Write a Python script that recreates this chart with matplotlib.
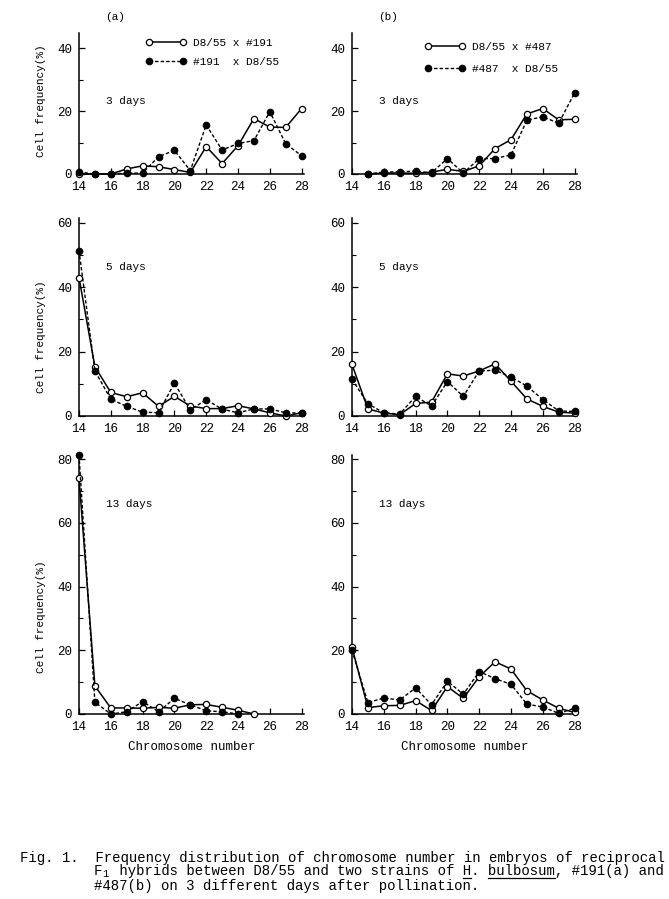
import numpy as np
import matplotlib
matplotlib.use("Agg")
import matplotlib.pyplot as plt
from matplotlib.lines import Line2D

plt.rcParams["font.family"] = ["Liberation Mono", "DejaVu Sans Mono"]

# DATA
chrom_a3 = list(range(14, 29))
open_a3 = [0.0, 0.0, 0.0, 1.6, 2.6, 2.3, 1.4, 0.5, 8.7, 3.3, 9.0, 17.6, 14.9, 14.8, 20.8]
fill_a3 = [0.6, 0.0, 0.0, 0.3, 0.3, 5.5, 7.5, 1.1, 15.6, 7.6, 9.7, 10.6, 19.8, 9.6, 5.8]

chrom_b3 = list(range(15, 29))
open_b3 = [0.0, 0.3, 0.3, 0.2, 0.6, 1.5, 0.8, 2.6, 8.1, 10.9, 19.1, 20.8, 17.2, 17.4]
fill_b3 = [0.0, 0.6, 0.7, 0.9, 0.4, 4.9, 0.3, 4.9, 4.9, 6.1, 17.1, 18.2, 16.1, 25.8]

chrom_a5 = list(range(14, 29))
open_a5 = [43.0, 15.3, 7.3, 6.0, 7.2, 3.0, 6.1, 3.1, 2.3, 2.3, 3.2, 2.2, 1.0, 0.0, 1.0]
fill_a5 = [51.4, 14.0, 5.2, 3.0, 1.2, 1.0, 10.2, 1.9, 5.1, 2.1, 1.0, 2.2, 2.2, 1.0, 0.9]

chrom_b5 = list(range(14, 29))
open_b5 = [16.0, 2.2, 0.9, 0.4, 3.9, 4.3, 13.1, 12.4, 14.0, 16.2, 10.8, 5.3, 3.0, 1.2, 0.9]
fill_b5 = [11.4, 3.8, 1.0, 0.6, 6.1, 3.1, 10.7, 6.1, 14.0, 14.2, 12.1, 9.3, 5.1, 1.6, 1.4]

chrom_a13_open = list(range(14, 26))
open_a13 = [74.1, 8.8, 1.9, 1.9, 1.8, 2.1, 1.8, 2.9, 3.0, 2.1, 1.2, 0.0]
chrom_a13_fill = list(range(14, 25))
fill_a13 = [81.3, 3.7, 0.0, 0.7, 3.9, 0.7, 4.9, 2.9, 1.0, 0.7, 0.0]

chrom_b13 = list(range(14, 29))
open_b13 = [20.9, 2.0, 2.6, 2.7, 4.2, 1.1, 8.6, 4.9, 11.7, 16.4, 14.1, 7.3, 4.4, 1.8, 0.5]
fill_b13 = [20.0, 3.6, 5.0, 4.4, 8.2, 2.9, 10.3, 6.2, 13.3, 11.1, 9.3, 3.1, 2.2, 0.2, 1.8]

day_labels = ["3 days", "5 days", "13 days"]
legend_a = ["D8/55 x #191", "#191  x D8/55"]
legend_b = ["D8/55 x #487", "#487  x D8/55"]

caption_1 = "Fig. 1.  Frequency distribution of chromosome number in embryos of reciprocal"
caption_2 = " hybrids between D8/55 and two strains of H. bulbosum, #191(a) and"
caption_3 = "#487(b) on 3 different days after pollination."
underlined = ["H", "bulbosum"]

# FIGURE
fig = plt.figure(figsize=(6.69, 8.99), dpi=100)

W = 669.0
H = 899.0
# rows: (top px, bottom px, ymax, ytick top)
rows = [(33, 174, 44.8, 40), (218, 416, 61.5, 60), (455, 714, 81.3, 80)]
cols = [79, 352]
axw = 225
MS = 4.5


def style_axis(ax, ymax, ytop):
    for s in ["top", "right"]:
        ax.spines[s].set_visible(False)
    for s in ["left", "bottom"]:
        ax.spines[s].set_linewidth(1.1)
    ax.set_xlim(14, 28.15)
    ax.set_ylim(0, ymax)
    ax.set_xticks(range(14, 29, 2))
    ax.set_yticks(range(0, ytop + 1, 20))
    ax.set_yticks(range(10, ytop, 20), minor=True)
    ax.tick_params(direction="in", length=4, width=0.9, labelsize=9, pad=5)
    ax.tick_params(which="minor", direction="in", length=3, width=0.8)


def draw(ax, xo, yo, xf, yf):
    ax.plot(xo, yo, "-", color="black", lw=1.1, marker="o", ms=MS,
            mfc="white", mec="black", mew=0.9, clip_on=False, zorder=3)
    ax.plot(xf, yf, color="black", lw=1.0, ls=(0, (2.5, 1.5)), marker="o",
            ms=MS, mfc="black", mec="black", clip_on=False, zorder=4)


panels = [
    [(chrom_a3, open_a3, chrom_a3, fill_a3), (chrom_b3, open_b3, chrom_b3, fill_b3)],
    [(chrom_a5, open_a5, chrom_a5, fill_a5), (chrom_b5, open_b5, chrom_b5, fill_b5)],
    [(chrom_a13_open, open_a13, chrom_a13_fill, fill_a13),
     (chrom_b13, open_b13, chrom_b13, fill_b13)],
]

axes = []
for r, (top, bot, ymax, ytop) in enumerate(rows):
    for c, left in enumerate(cols):
        ax = fig.add_axes([left / W, 1 - bot / H, axw / W, (bot - top) / H])
        style_axis(ax, ymax, ytop)
        draw(ax, *panels[r][c])
        ax.text(0.12, [0.52, 0.75, 0.81][r], day_labels[r], transform=ax.transAxes,
                fontsize=8, va="center", ha="left")
        if c == 0:
            ax.set_ylabel("Cell frequency(%)", fontsize=8)
            ax.yaxis.set_label_coords(-0.145, [0.52, 0.40, 0.375][r])
        if r == 2:
            ax.set_xlabel("Chromosome number", fontsize=9, labelpad=6)
        axes.append(ax)

# panel letters
axes[0].text(0.16, 1.113, "(a)", transform=axes[0].transAxes, fontsize=8,
             ha="center", va="center")
axes[1].text(0.16, 1.113, "(b)", transform=axes[1].transAxes, fontsize=8,
             ha="center", va="center")

# legends
handles = [
    Line2D([], [], color="black", lw=1.1, marker="o", ms=MS, mfc="white",
           mec="black", mew=0.9),
    Line2D([], [], color="black", lw=1.0, ls=(0, (2.5, 1.5)), marker="o",
           ms=MS, mfc="black", mec="black"),
]
for ax, labels, anchor, lsp in [(axes[0], legend_a, (0.296, 0.962), 0.75),
                                 (axes[1], legend_b, (0.323, 0.935), 1.07)]:
    ax.legend(handles, labels, loc="upper left", bbox_to_anchor=anchor,
              frameon=False, numpoints=2, handlelength=3.66, handletextpad=0.6,
              borderpad=0, borderaxespad=0, labelspacing=lsp, fontsize=8)

# caption
cfs = 10.1
x_fig = 20
x_ind = 94
fig.text(x_fig / W, 1 - 858 / H, caption_1, fontsize=cfs, va="center", ha="left")
fig.text(x_ind / W, 1 - 886 / H, caption_3, fontsize=cfs, va="center", ha="left")

renderer = fig.canvas.get_renderer()
tF = fig.text(x_ind / W, 1 - 871 / H, "F", fontsize=cfs, va="center", ha="left")
cw = tF.get_window_extent(renderer).width
fig.text((x_ind + cw) / W, 1 - 874 / H, "1", fontsize=cfs * 0.72, va="center",
         ha="left")
x_rest = x_ind + 2 * cw
fig.text(x_rest / W, 1 - 871 / H, caption_2, fontsize=cfs, va="center", ha="left")

# underlines below H. bulbosum
y_ul = 1 - 878 / H
start = 0
for word in underlined:
    i = caption_2.index(word, start)
    start = i + len(word)
    x0 = (x_rest + i * cw) / W
    x1 = (x_rest + (i + len(word)) * cw) / W
    fig.add_artist(Line2D([x0, x1], [y_ul, y_ul], color="black", lw=0.9,
                          transform=fig.transFigure))

fig.savefig("out.png", dpi=100)
